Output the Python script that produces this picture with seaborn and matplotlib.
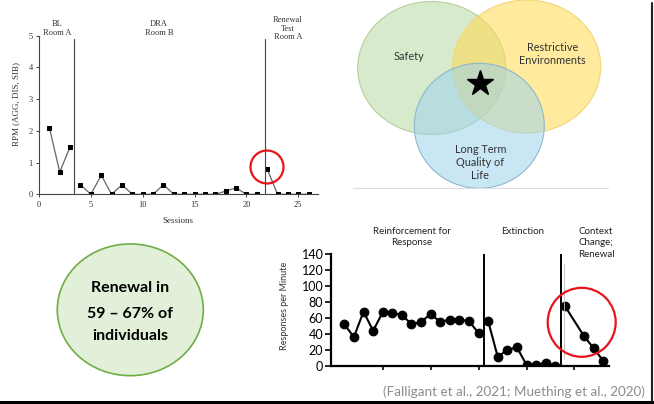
import seaborn as sns
import matplotlib.pyplot as plt
from matplotlib.patches import Ellipse, Rectangle

# ---- top-left graph: RPM (AGG, DIS, SIB) by session ----
bl_sessions = [1, 2, 3]
bl_rpm = [2.1, 0.7, 1.5]
dra_sessions = list(range(4, 22))
dra_rpm = [0.3, 0, 0.6, 0, 0.3, 0, 0, 0, 0.3, 0, 0, 0, 0, 0, 0.1, 0.2, 0, 0]
ren_sessions = [22, 23, 24, 25, 26]
ren_rpm = [0.8, 0, 0, 0, 0]
top_phase_lines = [3.4, 21.75]
top_phase_labels = ["BL\nRoom A", "DRA\nRoom B", "Renewal\nTest\nRoom A"]

# ---- bottom-right graph: responses per minute ----
rft_sessions = list(range(1, 16))
rft_resp = [52, 36, 68, 44, 67, 66, 64, 52, 55, 65, 55, 58, 58, 56, 41]
ext_sessions = list(range(16, 24))
ext_resp = [56, 11, 20, 23, 1, 1, 4, 0]
ctx_sessions = [24, 26, 27, 28]
ctx_resp = [75, 37, 22, 6]
bottom_phase_lines = [15.55, 23.6]
bottom_phase_labels = ["Reinforcement for\nResponse", "Extinction", "Context\nChange;\nRenewal"]

venn_labels = ["Safety", "Restrictive\nEnvironments", "Long Term\nQuality of\nLife"]
callout_lines = ["Renewal in", "59 \u2013 67% of", "individuals"]
citation = "(Falligant et al., 2021; Muething et al., 2020)"

sns.set_style("ticks")
plt.rcParams['font.family'] = ['Lato', 'DejaVu Sans']

W, H = 654, 404
fig = plt.figure(figsize=(W / 100, H / 100), dpi=100)


def frac(left, top, right, bottom):
    return [left / W, 1 - bottom / H, (right - left) / W, (bottom - top) / H]


# top-left chart
serif = ['Liberation Serif', 'DejaVu Serif']
ax1 = fig.add_axes(frac(39, 35.7, 318, 194.3))
for xs, ys in [(bl_sessions, bl_rpm), (dra_sessions, dra_rpm), (ren_sessions, ren_rpm)]:
    sns.lineplot(x=xs, y=ys, ax=ax1, color='#666666', linewidth=0.9, marker='s',
                 markersize=3.2, markerfacecolor='black', markeredgecolor='black')
for xv in top_phase_lines:
    ax1.plot([xv, xv], [0, 4.89], color='#444444', linewidth=0.8)
ax1.set_xlim(0, 26.9)
ax1.set_ylim(0, 5)
ax1.set_xticks([0, 5, 10, 15, 20, 25])
ax1.set_yticks([0, 1, 2, 3, 4, 5])
ax1.tick_params(labelsize=6, length=2.5, width=0.7, color='#444444', labelcolor='#333333', pad=2)
for lab in ax1.get_xticklabels() + ax1.get_yticklabels():
    lab.set_family(serif)
ax1.set_xlabel("Sessions", family=serif, fontsize=6.5, color='#333333')
ax1.set_ylabel("RPM (AGG, DIS, SIB)", family=serif, fontsize=6.5, color='#333333')
ax1.xaxis.set_label_coords(0.497, -0.145)
ax1.yaxis.set_label_coords(-0.068, 0.57)
sns.despine(ax=ax1)
for sp in ax1.spines.values():
    sp.set_color('#444444')
    sp.set_linewidth(0.8)

# bottom-right chart
ax2 = fig.add_axes(frac(331, 254.3, 609, 365.7))
for xs, ys in [(rft_sessions, rft_resp), (ext_sessions, ext_resp), (ctx_sessions, ctx_resp)]:
    sns.lineplot(x=xs, y=ys, ax=ax2, color='black', linewidth=1.5, marker='o',
                 markersize=6.3, markerfacecolor='black', markeredgecolor='black')
for xv in bottom_phase_lines:
    ax2.plot([xv, xv], [0, 140], color='black', linewidth=1.4)
ax2.plot([23.95, 23.95], [8, 128], color='#bbbbbb', linewidth=0.6)
ax2.set_xlim(-0.39, 28.6)
ax2.set_ylim(0, 140)
ax2.set_xticks([5, 10, 15, 20, 25])
ax2.set_xticklabels([])
ax2.set_yticks(range(0, 141, 20))
ax2.tick_params(axis='y', labelsize=9, length=4.5, width=1.4, pad=1, labelcolor='black')
ax2.tick_params(axis='x', length=3, width=1.4)
ax2.set_ylabel("Responses per Minute", fontsize=6.5, color='#333333')
ax2.yaxis.set_label_coords(-0.151, 0.536)
sns.despine(ax=ax2)
for sp in ax2.spines.values():
    sp.set_color('black')
    sp.set_linewidth(1.6)

# overlay in pixel coordinates for the slide elements
ov = fig.add_axes([0, 0, 1, 1], zorder=10)
ov.set_xlim(0, W)
ov.set_ylim(H, 0)
ov.axis('off')
ov.patch.set_alpha(0)

# chart phase labels
for (x, y), t in zip([(57, 20), (159, 20), (288, 16)], top_phase_labels):
    ov.text(x, y, t, ha='center', va='top', family=serif, fontsize=6, color='#333333',
            linespacing=1.1)
for (x, y), t in zip([(411.7, 227), (522.7, 227), (596, 227)], bottom_phase_labels):
    ov.text(x, y, t, ha='center', va='top', fontsize=7, color='#222222', linespacing=1.35)

# red highlight circles
ov.add_patch(Ellipse((267, 167), 33, 33, fill=False, edgecolor='#e8141b', linewidth=1.6))
ov.add_patch(Ellipse((581.7, 322.3), 68, 69, fill=False, edgecolor='#e8141b', linewidth=1.6))

# venn diagram
ov.add_patch(Ellipse((431.7, 68), 148, 133, facecolor='#a9d18e', alpha=0.45,
                     edgecolor='none'))
ov.add_patch(Ellipse((431.7, 68), 148, 133, fill=False, edgecolor='#b5cf9c', linewidth=0.8))
ov.add_patch(Ellipse((526.7, 66.5), 148, 133, facecolor='#ffd94d', alpha=0.55,
                     edgecolor='none'))
ov.add_patch(Ellipse((526.7, 66.5), 148, 133, fill=False, edgecolor='#f0d77a', linewidth=0.8))
ov.add_patch(Ellipse((479.3, 125.8), 130, 125, facecolor='#9dd3ee', alpha=0.55,
                     edgecolor='none'))
ov.add_patch(Ellipse((479.3, 125.8), 130, 125, fill=False, edgecolor='#8db8cc', linewidth=0.8))
ov.plot([480], [83], marker='*', markersize=19, color='black')
for (x, y), t in zip([(409.3, 56.7), (552.7, 54.3), (480.3, 162.3)], venn_labels):
    ov.text(x, y, t, ha='center', va='center', fontsize=7.8, color='#333333',
            linespacing=1.2)
ov.plot([353, 608], [187.7, 187.7], color='#dddddd', linewidth=0.8)

# green callout
ov.add_patch(Ellipse((130.3, 309.8), 146, 131.7, facecolor='#e2f0d9', edgecolor='#70ad47',
                     linewidth=1.2))
for y, t in zip([291.5, 318.3, 340], callout_lines):
    ov.text(130.3, y, t, ha='center', va='baseline', fontsize=11.5,
            fontweight='bold', color='black')

# citation
ov.text(645, 391.5, citation, ha='right', va='center', fontsize=9.7, color='#8c8c8c')

# slide border
ov.add_patch(Rectangle((0, 401), W, 3, facecolor='black', edgecolor='none'))
ov.plot([652, 652], [3, 401], color='#222222', linewidth=1.5)

fig.savefig('out.png', dpi=100)
